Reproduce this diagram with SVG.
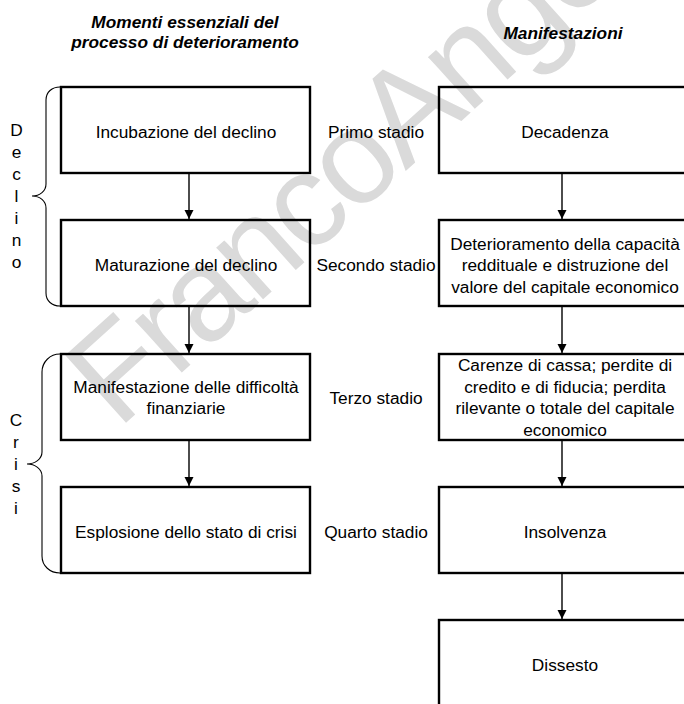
<svg xmlns="http://www.w3.org/2000/svg" width="684" height="704" viewBox="0 0 684 704">
  <style>
    text { font-family: "Liberation Sans", Arial, sans-serif; font-size: 17.3px; fill: #000; }
    .head { font-weight: bold; font-style: italic; }
    .mid { text-anchor: middle; }
    .box { fill: none; stroke: #000; stroke-width: 2.4; }
    .link { stroke: #000; stroke-width: 1.4; fill: none; }
    .brace { stroke: #000; stroke-width: 1.1; fill: none; }
    .mark { font-size: 132px; letter-spacing: -4px; fill: #dadada; }
  </style>
  <defs>
    <marker id="arrow" markerWidth="10" markerHeight="10" refX="9" refY="5" orient="auto" markerUnits="userSpaceOnUse">
      <path d="M0,0.5 L9,5 L0,9.5 Z" fill="#000"/>
    </marker>
  </defs>

  <rect width="684" height="704" fill="#fff"/>

  <!-- publisher watermark, under everything else -->
  <text class="mark" transform="translate(118,430) rotate(-42)">FrancoAngeli</text>

  <!-- column headings -->
  <g id="headings">
    <text class="head mid" x="185" y="28">Momenti essenziali del</text>
    <text class="head mid" x="185" y="48">processo di deterioramento</text>
    <text class="head mid" x="563" y="38.5">Manifestazioni</text>
  </g>

  <!-- phase braces with vertical labels -->
  <g id="phase-declino">
    <path class="brace" d="M60,87 C52,87 46,92 46,100 L46,184 C46,191 40,196 32,196 C40,196 46,201 46,208 L46,293 C46,301 52,306 60,306"/>
    <text class="mid" x="16.5" y="136">D</text>
    <text class="mid" x="16.5" y="158">e</text>
    <text class="mid" x="16.5" y="180">c</text>
    <text class="mid" x="16.5" y="202">l</text>
    <text class="mid" x="16.5" y="224">i</text>
    <text class="mid" x="16.5" y="246">n</text>
    <text class="mid" x="16.5" y="268">o</text>
  </g>
  <g id="phase-crisi">
    <path class="brace" d="M60,354 C50,354 42,362 42,372 L42,452 C42,459 35,464 27,464 C35,464 42,469 42,476 L42,556 C42,566 50,573 60,573"/>
    <text class="mid" x="16" y="426">C</text>
    <text class="mid" x="16" y="448">r</text>
    <text class="mid" x="16" y="470">i</text>
    <text class="mid" x="16" y="492">s</text>
    <text class="mid" x="16" y="514">i</text>
  </g>

  <!-- stage labels between the columns -->
  <g id="stages">
    <text class="mid" x="376" y="138">Primo stadio</text>
    <text class="mid" x="376" y="271">Secondo stadio</text>
    <text class="mid" x="376" y="404">Terzo stadio</text>
    <text class="mid" x="376" y="538">Quarto stadio</text>
  </g>

  <!-- left column: moments of the process -->
  <g id="incubazione">
    <rect class="box" x="61" y="87" width="249" height="86"/>
    <text class="mid" x="186" y="138">Incubazione del declino</text>
  </g>
  <g id="maturazione">
    <rect class="box" x="61" y="220" width="249" height="86"/>
    <text class="mid" x="186" y="271">Maturazione del declino</text>
  </g>
  <g id="manifestazione">
    <rect class="box" x="61" y="354" width="249" height="86"/>
    <text class="mid" x="186" y="393">Manifestazione delle difficoltà</text>
    <text class="mid" x="186" y="414">finanziarie</text>
  </g>
  <g id="esplosione">
    <rect class="box" x="61" y="487" width="249" height="86"/>
    <text class="mid" x="186" y="538">Esplosione dello stato di crisi</text>
  </g>

  <!-- right column: manifestations -->
  <g id="decadenza">
    <rect class="box" x="439" y="87" width="252" height="86"/>
    <text class="mid" x="565" y="138">Decadenza</text>
  </g>
  <g id="deterioramento">
    <rect class="box" x="439" y="220" width="252" height="86"/>
    <text class="mid" x="565" y="249.5">Deterioramento della capacità</text>
    <text class="mid" x="565" y="271">reddituale e distruzione del</text>
    <text class="mid" x="565" y="292.5">valore del capitale economico</text>
  </g>
  <g id="carenze">
    <rect class="box" x="439" y="354" width="252" height="86"/>
    <text class="mid" x="565" y="371">Carenze di cassa; perdite di</text>
    <text class="mid" x="565" y="392.5">credito e di fiducia; perdita</text>
    <text class="mid" x="565" y="414">rilevante o totale del capitale</text>
    <text class="mid" x="565" y="435.5">economico</text>
  </g>
  <g id="insolvenza">
    <rect class="box" x="439" y="487" width="252" height="86"/>
    <text class="mid" x="565" y="538">Insolvenza</text>
  </g>
  <g id="dissesto">
    <rect class="box" x="439" y="620" width="252" height="90"/>
    <text class="mid" x="565" y="671">Dissesto</text>
  </g>

  <!-- connectors -->
  <g id="connectors">
    <line class="link" x1="189" y1="174" x2="189" y2="219" marker-end="url(#arrow)"/>
    <line class="link" x1="189" y1="307" x2="189" y2="353" marker-end="url(#arrow)"/>
    <line class="link" x1="189" y1="441" x2="189" y2="486" marker-end="url(#arrow)"/>
    <line class="link" x1="562" y1="174" x2="562" y2="219" marker-end="url(#arrow)"/>
    <line class="link" x1="562" y1="307" x2="562" y2="353" marker-end="url(#arrow)"/>
    <line class="link" x1="562" y1="441" x2="562" y2="486" marker-end="url(#arrow)"/>
    <line class="link" x1="562" y1="574" x2="562" y2="619" marker-end="url(#arrow)"/>
  </g>
</svg>
